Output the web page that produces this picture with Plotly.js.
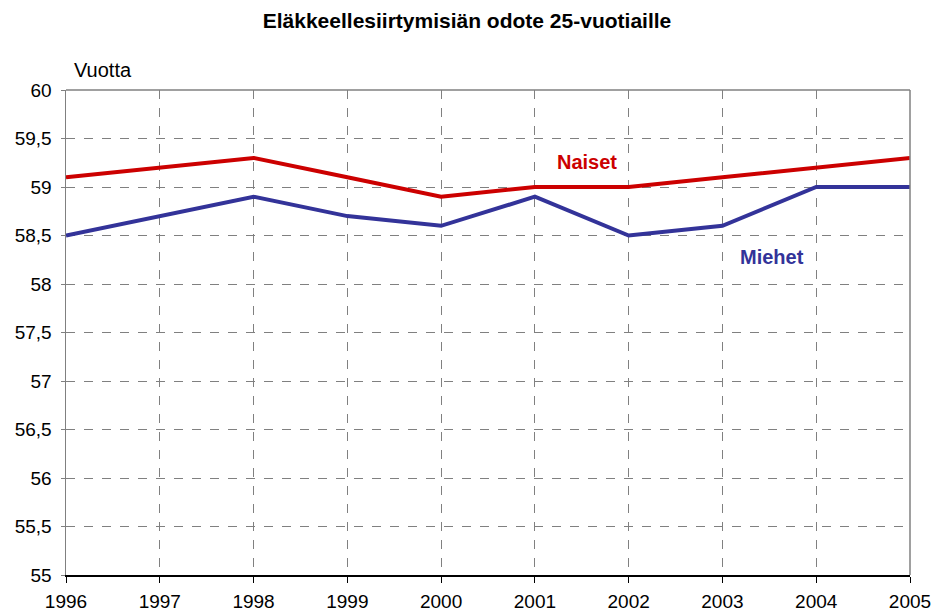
<!DOCTYPE html>
<html><head><meta charset="utf-8">
<script src="https://cdn.plot.ly/plotly-3.0.1.min.js"></script>
<style>html,body{margin:0;padding:0;background:#fff}#chart{width:934px;height:614px}</style>
</head><body><div id="chart"></div>
<script>
const years = [1996,1997,1998,1999,2000,2001,2002,2003,2004,2005];
const naiset = [59.1,59.2,59.3,59.1,58.9,59.0,59.0,59.1,59.2,59.3];
const miehet = [58.5,58.7,58.9,58.7,58.6,58.9,58.5,58.6,59.0,59.0];
const yTicks = [55,55.5,56,56.5,57,57.5,58,58.5,59,59.5,60];
const yTickText = yTicks.map(v => String(v).replace('.', ','));

const font = 'Liberation Sans, Arial, sans-serif';
const traces = [
  {x: years, y: naiset, type:'scatter', mode:'lines', name:'Naiset', line:{color:'#CC0000', width:4}},
  {x: years, y: miehet, type:'scatter', mode:'lines', name:'Miehet', line:{color:'#333399', width:4}}
];
const layout = {
  width:934, height:614,
  margin:{l:66, r:24, t:90, b:39},
  paper_bgcolor:'#fff', plot_bgcolor:'#fff',
  showlegend:false,
  font:{family:font, size:19, color:'#000'},
  title:{text:'<b>Eläkkeellesiirtymisiän odote 25-vuotiaille</b>', x:0.5, xanchor:'center', y:0.967, yanchor:'middle', font:{family:font, size:21, color:'#000'}},
  xaxis:{range:[1996,2005], tickvals:years, ticktext:years.map(String), showgrid:true, gridcolor:'#808080', griddash:'dash', gridwidth:1,
         showline:true, linecolor:'#000', linewidth:1.5, mirror:false, ticks:'outside', ticklen:6, tickcolor:'#000', zeroline:false,
         ticklabelstandoff:3, tickfont:{family:font, size:19}},
  yaxis:{range:[55,60], tickvals:yTicks, ticktext:yTickText, showgrid:true, gridcolor:'#808080', griddash:'dash', gridwidth:1,
         showline:true, linecolor:'#808080', linewidth:1.5, ticks:'outside', ticklen:4, tickcolor:'#808080', zeroline:false,
         ticklabelstandoff:5, tickfont:{family:font, size:19}},
  shapes:[
    {type:'line', xref:'paper', yref:'paper', x0:0, x1:1, y0:1, y1:1, line:{color:'#808080', width:1.5}},
    {type:'line', xref:'paper', yref:'paper', x0:1, x1:1, y0:0, y1:1, line:{color:'#808080', width:1.5}}
  ],
  annotations:[
    {text:'Vuotta', xref:'paper', yref:'paper', x:0.007, y:1.041, xanchor:'left', yanchor:'middle', showarrow:false, font:{family:font, size:20, color:'#000'}},
    {text:'<b>Naiset</b>', xref:'x', yref:'y', x:2001.56, y:59.26, showarrow:false, font:{family:font, size:20, color:'#CC0000'}},
    {text:'<b>Miehet</b>', xref:'x', yref:'y', x:2003.53, y:58.28, showarrow:false, font:{family:font, size:20, color:'#333399'}}
  ]
};
Plotly.newPlot('chart', traces, layout, {displayModeBar:false, staticPlot:true});
</script></body></html>
